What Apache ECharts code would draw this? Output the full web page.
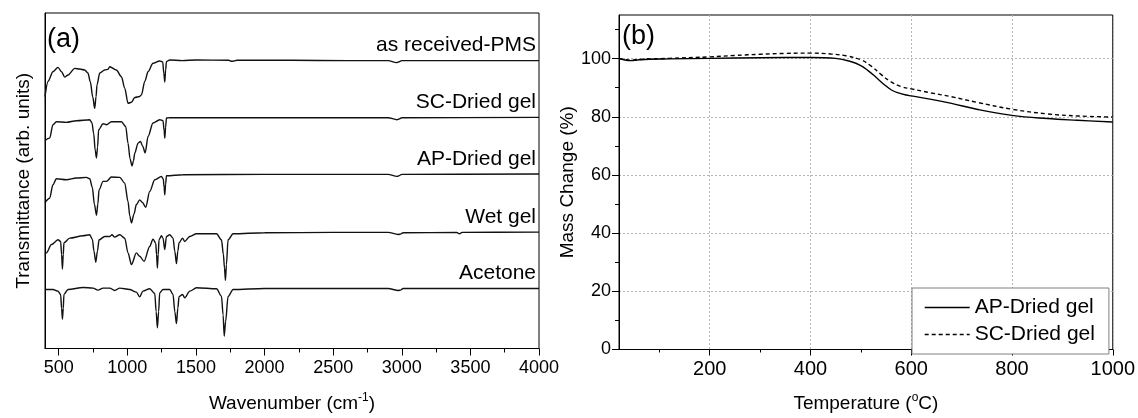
<!DOCTYPE html>
<html><head><meta charset="utf-8">
<script src="https://cdn.jsdelivr.net/npm/echarts@6/dist/echarts.min.js"></script>
<style>html,body{margin:0;padding:0;background:#fff}#c{width:1138px;height:418px}</style>
</head><body><div id="c"></div>
<script>
// ---------- Panel (a): FTIR spectra (wavenumber cm-1, transmittance arb. units, stacked) ----------
const ftirNames = ['as received-PMS', 'SC-Dried gel', 'AP-Dried gel', 'Wet gel', 'Acetone'];
const specPMS = [[400,75.1],[422,79.6],[458,82.5],[495,83.8],[520,82.5],[544,80.9],[568,81.5],[617,83.5],[653,83.3],[689,83.0],[713,82.1],[730,79.5],[748,75],[762,71.6],[772,75],[779,78.6],[799,82.1],[835,83.0],[859,83.2],[872,84.0],[920,83.0],[957,81.0],[981,77.6],[1005,73.1],[1030,73.4],[1054,74.8],[1090,75.1],[1103,75.6],[1127,79.6],[1151,82.5],[1187,85.0],[1236,85.7],[1258,85.4],[1266,82],[1273,79.4],[1279,83],[1285,85.5],[1309,86.0],[1400,85.8],[1500,86.0],[1740,85.9],[1760,85.6],[1800,85.9],[2200,85.9],[2600,85.8],[2900,85.8],[2962,85.2],[2975,85.4],[3000,85.8],[3500,85.8],[4000,85.8]];
const specSC = [[400,62.0],[434,62.7],[458,66.7],[483,67.6],[556,67.4],[629,67.9],[726,68.2],[742,67.3],[755,64],[766,59],[775,56.8],[783,60],[791,65.2],[823,67.0],[848,66.7],[884,67.6],[957,67.6],[988,66.2],[1005,61.2],[1020,56.5],[1034,54.4],[1045,56],[1054,58.2],[1078,61.2],[1096,61.7],[1112,60.3],[1130,58.3],[1151,63.2],[1187,67.2],[1236,68.2],[1260,67.9],[1268,65],[1273,62.7],[1279,66],[1285,68.7],[1309,68.8],[2000,68.8],[2900,68.8],[2965,68.2],[2980,68.4],[3000,68.8],[4000,68.9]];
const specAP = [[400,43.5],[434,44.8],[458,48.8],[483,50.6],[556,50.3],[629,50.8],[702,51.0],[726,50.6],[745,48],[760,43],[775,39.7],[785,43],[794,47.3],[823,49.8],[848,49.8],[884,51.1],[945,51.0],[981,49.3],[1005,43.8],[1018,39.5],[1030,37.4],[1048,40],[1066,42.9],[1090,44.3],[1110,43.5],[1134,42.1],[1163,46.8],[1200,50.3],[1249,51.3],[1262,50.5],[1268,48],[1273,45.8],[1279,49],[1285,51.5],[1406,51.8],[2000,51.9],[2900,51.9],[2965,51.3],[2980,51.5],[3000,51.9],[4000,52.0]];
const specWet = [[400,28.0],[410,28.5],[447,31.0],[495,32.4],[514,31.9],[521,28],[527,23.7],[533,28],[538,31.5],[580,32.9],[677,33.6],[726,33.9],[745,32.6],[757,29],[770,25.7],[782,29],[794,32.4],[835,33.4],[872,33.4],[888,33.9],[908,33.2],[945,33.9],[981,32.9],[1005,28.5],[1030,25.0],[1066,28.5],[1090,27.5],[1122,26.0],[1163,30.4],[1187,32.6],[1207,31.4],[1213,28],[1219,24.0],[1225,28],[1231,32.4],[1249,33.6],[1260,32.9],[1273,29.5],[1285,33.4],[1309,33.9],[1333,32.9],[1346,29],[1358,25.3],[1368,29],[1377,31.5],[1402,32.9],[1418,31.9],[1455,33.4],[1504,34.2],[1650,34.2],[1686,32.4],[1700,28],[1708,24],[1715,20.3],[1722,25],[1734,32.4],[1771,34.2],[2000,34.5],[2500,34.6],[2900,34.6],[2975,34.0],[2990,34.1],[3010,34.5],[3400,34.6],[3420,34.2],[3440,34.6],[4000,34.7]];
const specAcetone = [[400,17.6],[458,17.6],[495,17.1],[514,16.1],[521,12],[527,8.8],[533,12],[538,16.1],[568,17.6],[677,18.2],[750,18.0],[786,17.4],[823,18.0],[872,18.0],[908,17.3],[945,18.0],[1017,17.6],[1066,16.8],[1090,15.4],[1114,17.1],[1163,17.8],[1200,16.4],[1210,11],[1219,6.2],[1228,11],[1236,16.6],[1260,17.6],[1309,17.6],[1333,16.1],[1346,11],[1358,7.4],[1368,12],[1377,15.5],[1402,16.1],[1418,15.1],[1455,17.1],[1504,18.1],[1650,17.8],[1686,15.6],[1698,10],[1706,3.7],[1716,8],[1734,15.5],[1771,17.6],[2000,17.9],[2900,17.9],[2975,17.3],[2990,17.4],[3010,17.9],[4000,17.9]];
const ftirSpectra = [specPMS, specSC, specAP, specWet, specAcetone];
const ftirTicks = [500,1000,1500,2000,2500,3000,3500,4000];
const ftirMinorTicks = [750,1250,1750,2250,2750,3250,3750];

// ---------- Panel (b): TGA ----------
const tgaNames = ['AP-Dried gel', 'SC-Dried gel'];
const tempAP = [20,30,42,60,80,120,200,300,400,450,480,500,515,530,545,560,575,590,600,640,680,730,800,870,930,1000];
const massAP = [100.1,99.6,99.3,99.6,99.8,99.9,100.1,100.3,100.4,100.1,99.0,97.6,95.8,93.6,91.3,89.3,88.2,87.5,87.2,86.0,84.6,82.6,80.5,79.4,78.8,78.2];
const tempSC = [20,30,42,60,80,120,200,250,300,350,400,440,470,500,520,540,560,580,600,640,680,730,800,870,930,1000];
const massSC = [100.1,99.7,99.5,99.7,99.9,100.1,100.6,101.1,101.5,101.8,101.9,101.6,101.0,99.6,97.5,94.6,92.0,90.4,89.6,88.2,86.9,85.0,82.6,81.0,80.3,79.9];
const tgaXTicks = [200,400,600,800,1000];
const tgaXMinorTicks = [100,300,500,700,900];
const tgaYTicks = [0,20,40,60,80,100];
const tgaYMinorTicks = [10,30,50,70,90,110];

const FONT = 'Liberation Sans, Arial, sans-serif';
const chart = echarts.init(document.getElementById('c'), null, {renderer: 'canvas'});
const black = '#000';
const plain = v => String(v);
const gridLine = {show: true, lineStyle: {color: '#b4b4b4', type: [2, 2], width: 1}};
const supRich = {
  n: {fontSize: 19, fontFamily: FONT, color: black, lineHeight: 24},
  s: {fontSize: 12, fontFamily: FONT, color: black, verticalAlign: 'top', lineHeight: 12}
};
const lineTypes = ['solid', [4, 3]];

const ftirSeries = ftirSpectra.map((d, i) => ({
  name: ftirNames[i], type: 'line', xAxisIndex: 0, yAxisIndex: 0,
  data: d, symbol: 'none', smooth: 0.3, smoothMonotone: 'x',
  lineStyle: {color: '#111', width: 1.4}, silent: true
}));
const tgaSeries = [
  {name: tgaNames[0], temps: tempAP, mass: massAP},
  {name: tgaNames[1], temps: tempSC, mass: massSC}
].map((s, i) => ({
  name: s.name, type: 'line', xAxisIndex: 2, yAxisIndex: 1,
  data: s.temps.map((t, k) => [t, s.mass[k]]), symbol: 'none', smooth: 0.4,
  lineStyle: {color: '#000', width: 1.4, type: lineTypes[i]}, itemStyle: {color: '#000'}
}));

chart.setOption({
  animation: false,
  backgroundColor: '#fff',
  textStyle: {fontFamily: FONT},
  grid: [
    {left: 45, top: 13, width: 494, height: 336, show: true, borderColor: black, borderWidth: 1},
    {left: 619, top: 15, width: 494, height: 338, show: true, borderColor: black, borderWidth: 1}
  ],
  xAxis: [
    {gridIndex: 0, type: 'value', min: 400, max: 4000, position: 'bottom',
     axisLine: {lineStyle: {color: black, width: 1}},
     axisTick: {customValues: ftirTicks, length: 7, lineStyle: {color: black}},
     axisLabel: {customValues: ftirTicks, formatter: plain, fontSize: 18, color: black, margin: 11, fontFamily: FONT},
     splitLine: {show: false},
     name: '{n|Wavenumber (cm}{s|-1}{n|)}', nameLocation: 'middle', nameGap: 43,
     nameTextStyle: {rich: supRich}},
    {gridIndex: 0, type: 'value', min: 400, max: 4000, position: 'bottom',
     axisLine: {show: false}, axisLabel: {show: false}, splitLine: {show: false},
     axisTick: {customValues: ftirMinorTicks, length: 4, lineStyle: {color: black}}},
    {gridIndex: 1, type: 'value', min: 20, max: 1000, position: 'bottom',
     axisLine: {lineStyle: {color: black, width: 1}},
     axisTick: {customValues: tgaXTicks, length: 6, lineStyle: {color: black}},
     axisLabel: {customValues: tgaXTicks, formatter: plain, fontSize: 20, color: black, margin: 10, fontFamily: FONT},
     splitLine: gridLine,
     name: '{n|Temperature (}{s|o}{n|C)}', nameLocation: 'middle', nameGap: 42,
     nameTextStyle: {rich: supRich}},
    {gridIndex: 1, type: 'value', min: 20, max: 1000, position: 'bottom',
     axisLine: {show: false}, axisLabel: {show: false}, splitLine: {show: false},
     axisTick: {customValues: tgaXMinorTicks, length: 3, lineStyle: {color: black}}}
  ],
  yAxis: [
    {gridIndex: 0, type: 'value', min: 0, max: 100, position: 'left',
     axisLine: {lineStyle: {color: black}}, axisTick: {show: false}, axisLabel: {show: false},
     splitLine: {show: false},
     name: 'Transmittance (arb. units)', nameLocation: 'middle', nameGap: 12,
     nameTextStyle: {fontSize: 19, color: black, fontFamily: FONT}},
    {gridIndex: 1, type: 'value', min: 0, max: 115, position: 'left',
     axisLine: {lineStyle: {color: black}},
     axisTick: {customValues: tgaYTicks, length: 7, lineStyle: {color: black}},
     axisLabel: {customValues: tgaYTicks, formatter: plain, fontSize: 18, color: black, margin: 8, fontFamily: FONT},
     splitLine: gridLine,
     name: 'Mass Change (%)', nameLocation: 'middle', nameGap: 42,
     nameTextStyle: {fontSize: 19, color: black, fontFamily: FONT}},
    {gridIndex: 1, type: 'value', min: 0, max: 115, position: 'left',
     axisLine: {show: false}, axisLabel: {show: false}, splitLine: {show: false},
     axisTick: {customValues: tgaYMinorTicks, length: 4, lineStyle: {color: black}}}
  ],
  legend: {
    data: tgaNames.map((n, i) => ({name: n, lineStyle: {type: lineTypes[i], color: '#000', width: 1.4},
      itemStyle: {opacity: 0}})),
    orient: 'vertical', left: 912, top: 288,
    itemWidth: 45, itemHeight: 14, itemGap: 6, padding: [9, 14, 9, 12],
    borderColor: '#808080', borderWidth: 1, backgroundColor: '#fff', borderRadius: 0,
    textStyle: {fontSize: 21, color: black, fontFamily: FONT}
  },
  series: ftirSeries.concat(tgaSeries)
});

// Labels for spectra, anchored at each spectrum's high-wavenumber end
const graphics = ftirSpectra.map((d, i) => {
  const last = d[d.length - 1];
  const p = chart.convertToPixel({xAxisIndex: 0, yAxisIndex: 0}, last);
  return {type: 'text', x: p[0] - 3, y: p[1] - 15,
    style: {text: ftirNames[i], font: '21px ' + FONT, fill: black, align: 'right', verticalAlign: 'middle'}};
});
graphics.push({type: 'text', x: 47, y: 40, style: {text: '(a)', font: '27px ' + FONT, fill: black, verticalAlign: 'middle'}});
graphics.push({type: 'text', x: 622, y: 37, style: {text: '(b)', font: '27px ' + FONT, fill: black, verticalAlign: 'middle'}});
chart.setOption({graphic: graphics});
</script></body></html>
